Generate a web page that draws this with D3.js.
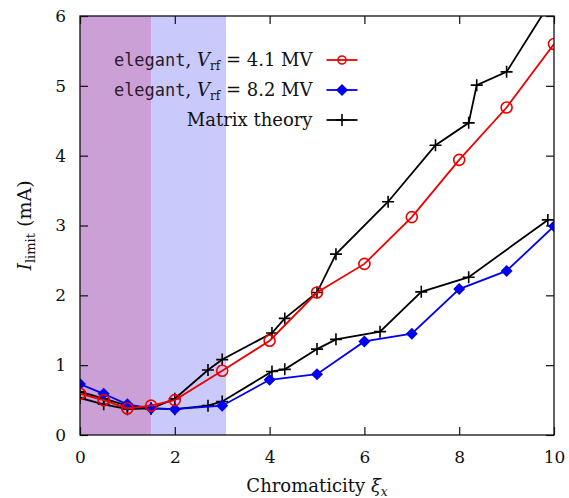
<!DOCTYPE html>
<html>
<head>
<meta charset="utf-8">
<script src="https://cdnjs.cloudflare.com/ajax/libs/d3/7.8.5/d3.min.js"></script>
<style>
  body { margin: 0; background: #fff; }
  svg text, svg tspan { font-family: "DejaVu Serif", serif; }
  svg tspan.mono { font-family: "DejaVu Sans Mono", "Liberation Mono", monospace; }
</style>
</head>
<body>
<div id="chart"></div>
<script>
// x positions of each series
var xRed = [0, 0.5, 1, 1.5, 2, 3, 4, 5, 6, 7, 8, 9, 10];
var yRed = [0.59, 0.5, 0.38, 0.42, 0.5, 0.92, 1.35, 2.04, 2.45, 3.12, 3.94, 4.69, 5.6];

var xBlue = [0, 0.5, 1, 1.5, 2, 3, 4, 5, 6, 7, 8, 9, 10];
var yBlue = [0.73, 0.59, 0.44, 0.38, 0.37, 0.42, 0.79, 0.87, 1.34, 1.45, 2.09, 2.35, 2.99];

// matrix theory, two branches (one per voltage)
var xTheoryA = [0, 0.5, 1, 1.5, 2, 2.7, 3, 4.05, 4.32, 5, 5.4, 6.5, 7.5, 8.2, 8.37, 9, 10];
var yTheoryA = [0.62, 0.52, 0.42, 0.38, 0.52, 0.93, 1.08, 1.46, 1.67, 2.04, 2.59, 3.34, 4.15, 4.47, 5.01, 5.2, 6.28];

var xTheoryB = [0, 0.5, 1, 1.5, 2, 2.7, 3, 4.05, 4.32, 5, 5.4, 6.33, 7.2, 8.2, 9.87];
var yTheoryB = [0.53, 0.44, 0.37, 0.38, 0.37, 0.42, 0.48, 0.91, 0.94, 1.23, 1.37, 1.48, 2.05, 2.26, 3.08];

// shaded chromaticity bands
var bandEdges = [0, 1.5, 3.08];
var bandColors = ["#cba0d6", "#c9c9fb"];

var xTicks = [0, 2, 4, 6, 8, 10];
var yTicks = [0, 1, 2, 3, 4, 5, 6];

function zip(xs, ys) {
  var arr = [];
  for (var i = 0; i < xs.length; i++) arr.push([xs[i], ys[i]]);
  return arr;
}

var width = 569, height = 498;
var margin = {top: 16, right: 15, bottom: 63, left: 80};
var w = width - margin.left - margin.right,
    h = height - margin.top - margin.bottom;

var x = d3.scaleLinear().domain([0, 10]).range([0, w]);
var y = d3.scaleLinear().domain([0, 6]).range([h, 0]);

var svg = d3.select("#chart").append("svg")
    .attr("width", width)
    .attr("height", height);

var g = svg.append("g")
    .attr("transform", "translate(" + margin.left + "," + margin.top + ")");

g.append("clipPath").attr("id", "clip")
  .append("rect").attr("width", w).attr("height", h);

// bands
for (var b = 0; b < bandColors.length; b++) {
  g.append("rect")
    .attr("x", x(bandEdges[b]))
    .attr("y", 0)
    .attr("width", x(bandEdges[b + 1]) - x(bandEdges[b]))
    .attr("height", h)
    .style("fill", bandColors[b]);
}

// axes with inward ticks on all sides
var tickLen = 8;
function cleanAxis(a) {
  a.attr("font-family", null).attr("font-size", null);
  a.select(".domain").remove();
}
g.append("g").attr("transform", "translate(0," + h + ")")
  .call(d3.axisBottom(x).tickValues(xTicks).tickSize(-tickLen).tickPadding(tickLen + 8).tickFormat(d3.format("d")).tickSizeOuter(0))
  .call(cleanAxis);
g.append("g")
  .call(d3.axisTop(x).tickValues(xTicks).tickSize(-tickLen).tickFormat("").tickSizeOuter(0))
  .call(cleanAxis);
g.append("g")
  .call(d3.axisLeft(y).tickValues(yTicks).tickSize(-tickLen).tickPadding(tickLen + 6).tickFormat(d3.format("d")).tickSizeOuter(0))
  .call(cleanAxis);
g.append("g").attr("transform", "translate(" + w + ",0)")
  .call(d3.axisRight(y).tickValues(yTicks).tickSize(-tickLen).tickFormat("").tickSizeOuter(0))
  .call(cleanAxis);

g.selectAll(".tick line").style("stroke", "#111").style("stroke-width", 1.2);
g.selectAll(".tick text")
  .style("font-size", "17px")
  .style("fill", "#111");

var line = d3.line()
  .x(function(d) { return x(d[0]); })
  .y(function(d) { return y(d[1]); });

var plot = g.append("g").attr("clip-path", "url(#clip)");

var series = [
  {data: zip(xTheoryA, yTheoryA), color: "#000", marker: "plus"},
  {data: zip(xTheoryB, yTheoryB), color: "#000", marker: "plus"},
  {data: zip(xBlue, yBlue), color: "#0000ee", marker: "diamond"},
  {data: zip(xRed, yRed), color: "#ee0000", marker: "circle"}
];

function drawMarker(sel, type, color) {
  if (type === "circle") {
    sel.append("circle").attr("r", 5.5)
      .style("fill", "none").style("stroke", color).style("stroke-width", 1.6);
  } else if (type === "diamond") {
    sel.append("path").attr("d", "M0,-6L6,0L0,6L-6,0Z")
      .style("fill", color);
  } else {
    sel.append("path").attr("d", "M-6,0H6M0,-6V6")
      .style("stroke", color).style("stroke-width", 1.6);
  }
}

series.forEach(function(s) {
  plot.append("path")
    .datum(s.data)
    .attr("d", line)
    .style("fill", "none")
    .style("stroke", s.color)
    .style("stroke-width", 1.8);
  plot.selectAll(null)
    .data(s.data.filter(function(d) { return d[1] <= 6; }))
    .enter().append("g")
    .attr("transform", function(d) { return "translate(" + x(d[0]) + "," + y(d[1]) + ")"; })
    .each(function() { drawMarker(d3.select(this), s.marker, s.color); });
});

// frame
g.append("rect").attr("width", w).attr("height", h)
  .style("fill", "none").style("stroke", "#111").style("stroke-width", 1.3);

// legend
var legend = [
  {label: "4.1 MV", color: "#ee0000", marker: "circle", elegant: true},
  {label: "8.2 MV", color: "#0000ee", marker: "diamond", elegant: true},
  {label: "Matrix theory", color: "#000", marker: "plus", elegant: false}
];
var lg = g.append("g").attr("transform", "translate(" + (312.5 - margin.left) + "," + (60 - margin.top) + ")");
legend.forEach(function(d, i) {
  var row = lg.append("g").attr("transform", "translate(0," + i * 30 + ")");
  var t = row.append("text").attr("x", 0).attr("y", 6)
    .attr("text-anchor", "end").style("font-size", "18px").style("fill", "#111");
  if (d.elegant) {
    t.append("tspan").attr("class", "mono").style("font-size", "17px").style("fill", "#2a1a2a").text("elegant");
    t.append("tspan").text(", ");
    t.append("tspan").style("font-style", "italic").text("V");
    t.append("tspan").style("font-size", "12px").attr("dy", 4).text("rf");
    t.append("tspan").attr("dy", -4).text(" = " + d.label);
  } else {
    t.text(d.label);
  }
  row.append("line").attr("x1", 14).attr("x2", 45)
    .style("stroke", d.color).style("stroke-width", 1.8);
  var m = row.append("g").attr("transform", "translate(29.5,0)");
  if (d.marker === "circle") {
    m.append("circle").attr("r", 4).style("fill", "none").style("stroke", d.color).style("stroke-width", 1.6);
  } else {
    drawMarker(m, d.marker, d.color);
  }
});

// axis titles
var yl = svg.append("text")
  .attr("transform", "translate(31," + (margin.top + h / 2) + ") rotate(-90)")
  .attr("text-anchor", "middle")
  .style("font-size", "19px").style("fill", "#111");
yl.append("tspan").style("font-style", "italic").text("I");
yl.append("tspan").style("font-size", "13px").attr("dy", 4).text("limit");
yl.append("tspan").attr("dy", -4).text("  (mA)");

var xl = svg.append("text")
  .attr("x", margin.left + w / 2)
  .attr("y", 492)
  .attr("text-anchor", "middle")
  .style("font-size", "18px").style("fill", "#111");
xl.append("tspan").text("Chromaticity ");
xl.append("tspan").style("font-style", "italic").text("ξ");
xl.append("tspan").style("font-size", "12px").style("font-style", "italic").attr("dy", 4).text("x");
</script>
</body>
</html>
